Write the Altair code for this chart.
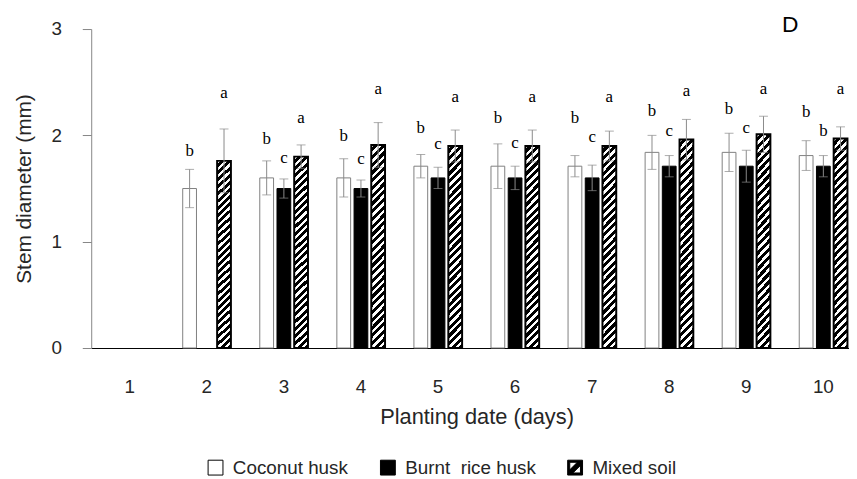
import altair as alt
import pandas as pd

# ---------------- data ----------------
days = ["1", "2", "3", "4", "5", "6", "7", "8", "9", "10"]
series = ["Coconut husk", "Burnt\u00a0\u00a0rice husk", "Mixed soil"]

coconut_mean = [None, 1.50, 1.60, 1.60, 1.71, 1.71, 1.71, 1.84, 1.84, 1.81]
coconut_err = [None, 0.18, 0.16, 0.18, 0.11, 0.21, 0.10, 0.16, 0.18, 0.14]
burnt_mean = [None, None, 1.50, 1.50, 1.60, 1.60, 1.60, 1.71, 1.71, 1.71]
burnt_err = [None, None, 0.09, 0.08, 0.10, 0.11, 0.12, 0.10, 0.15, 0.10]
mixed_mean = [None, 1.76, 1.80, 1.91, 1.90, 1.90, 1.90, 1.96, 2.01, 1.97]
mixed_err = [None, 0.30, 0.11, 0.21, 0.15, 0.15, 0.14, 0.19, 0.17, 0.11]

coconut_letter = [None, "b", "b", "b", "b", "b", "b", "b", "b", "b"]
burnt_letter = [None, None, "c", "c", "c", "c", "c", "c", "c", "b"]
mixed_letter = [None, "a", "a", "a", "a", "a", "a", "a", "a", "a"]

coconut_letter_y = [None, 1.85, 1.97, 1.99, 2.07, 2.16, 2.16, 2.23, 2.25, 2.22]
burnt_letter_y = [None, None, 1.79, 1.78, 1.92, 1.93, 1.98, 2.04, 2.07, 2.04]
mixed_letter_y = [None, 2.40, 2.16, 2.44, 2.36, 2.36, 2.36, 2.42, 2.44, 2.44]

# ---------------- table ----------------
rows = []
for s, means, errs, letters, ly in [
    (series[0], coconut_mean, coconut_err, coconut_letter, coconut_letter_y),
    (series[1], burnt_mean, burnt_err, burnt_letter, burnt_letter_y),
    (series[2], mixed_mean, mixed_err, mixed_letter, mixed_letter_y),
]:
    for d, m, e, l, y in zip(days, means, errs, letters, ly):
        if m is None:
            continue
        rows.append(dict(day=d, series=s, mean=m, lo=m - e, hi=m + e,
                         letter=l, letter_y=y))
df = pd.DataFrame(rows)

# ---------------- styling ----------------
FONT = "Liberation Sans"
N = 28
stops = []
for k in range(N):
    a0, a1, a2 = k / N, (k + 0.45) / N, (k + 1) / N
    stops += [{"offset": a0, "color": "white"}, {"offset": a1, "color": "white"},
              {"offset": a1, "color": "black"}, {"offset": a2, "color": "black"}]
hatch = {"gradient": "linear", "x1": 0, "y1": 0, "x2": 0.074, "y2": 1.064,
         "stops": stops}

hatch_symbol = ("M-1,-1L1,-1L1,1L-1,1Z"
                "M-0.72,-0.72L-0.72,0.72L0.72,0.72L0.72,-0.72Z"
                "M-0.72,0.3L0.3,-0.72L0.72,-0.72L0.72,-0.3L-0.3,0.72L-0.72,0.72Z")

x_enc = alt.X("day:N", scale=alt.Scale(domain=days, range=[0, 778],
                                        paddingInner=0.33, paddingOuter=0.165),
              axis=alt.Axis(title="Planting date (days)", labelAngle=0,
                            ticks=False, tickSize=0, labelPadding=30,
                            titlePadding=10, domainColor="#000000",
                            labelFontSize=19, titleFontSize=22))
xo_enc = alt.XOffset("series:N", scale=alt.Scale(domain=series,
                                                 paddingInner=0.2,
                                                 paddingOuter=0.1))
y_scale = alt.Scale(domain=[0, 3], nice=False)
y_enc = alt.Y("mean:Q", scale=y_scale,
              axis=alt.Axis(title="Stem diameter (mm)", values=[0, 1, 2, 3],
                            format="d", grid=False, tickSize=9, labelPadding=21,
                            domainColor="#868686", tickColor="#868686",
                            labelFontSize=19, titleFontSize=21,
                            titlePadding=17))

base = alt.Chart(df)

coconut_bars = base.transform_filter(alt.datum.series == series[0]).mark_bar(
    fill="white", stroke="#7f7f7f", strokeWidth=1).encode(
    x=x_enc, xOffset=xo_enc, y=y_enc)

burnt_bars = base.transform_filter(alt.datum.series == series[1]).mark_bar(
    fill="black", stroke="black", strokeWidth=1).encode(
    x=x_enc, xOffset=xo_enc, y=y_enc)

mixed_bars = base.transform_filter(alt.datum.series == series[2]).mark_bar(
    fill=hatch, stroke="black", strokeWidth=2).encode(
    x=x_enc, xOffset=xo_enc, y=y_enc)

err = base.mark_rule(color="#8a8a8a", strokeWidth=1).encode(
    x=x_enc, xOffset=xo_enc, y=alt.Y("lo:Q", scale=y_scale), y2="hi:Q")
cap_hi = base.mark_tick(color="#8a8a8a", thickness=1, size=9).encode(
    x=x_enc, xOffset=xo_enc, y=alt.Y("hi:Q", scale=y_scale))
cap_lo = base.mark_tick(color="#8a8a8a", thickness=1, size=9).encode(
    x=x_enc, xOffset=xo_enc, y=alt.Y("lo:Q", scale=y_scale))

letters = base.mark_text(font="Liberation Serif", fontSize=17,
                         baseline="middle", color="black").encode(
    x=x_enc, xOffset=xo_enc, y=alt.Y("letter_y:Q", scale=y_scale),
    text="letter:N")

legend_def = alt.Legend(title=None, orient="none", direction="horizontal",
                        legendX=116, legendY=433)
legend_layer = base.transform_filter(alt.datum.day == "0").mark_point(
    filled=True, opacity=1, strokeWidth=1).encode(
    x=x_enc, y=y_enc,
    fill=alt.Fill("series:N",
                  scale=alt.Scale(domain=series, range=["white", "black", "black"]),
                  legend=legend_def),
    stroke=alt.Stroke("series:N",
                      scale=alt.Scale(domain=series, range=["black", "black", "black"]),
                      legend=legend_def),
    shape=alt.Shape("series:N",
                    scale=alt.Scale(domain=series,
                                    range=["square", "square", hatch_symbol]),
                    legend=legend_def),
)

chart = alt.layer(coconut_bars, burnt_bars, mixed_bars, err, cap_hi, cap_lo,
                  letters, legend_layer).properties(
    width=765, height=322,
    autosize=alt.AutoSizeParams(type="none"),
    padding={"left": 84, "top": 19, "right": 0, "bottom": 130},
    title=alt.Title("D", anchor="end", frame="group", fontSize=23, font=FONT,
                    fontWeight="normal", dx=-51, offset=-17, color="black"),
).configure_view(stroke=None).configure_axis(
    labelFont=FONT, titleFont=FONT, labelColor="#262626", titleColor="#262626",
    titleFontWeight="normal", domainWidth=1,
).configure_legend(
    labelFont=FONT, labelFontSize=19, labelColor="#262626", symbolSize=225,
    symbolStrokeColor="black", symbolStrokeWidth=1, symbolOpacity=1,
    labelOffset=8, columnPadding=30, padding=0,
)

chart.save("out.html", embed_options={"renderer": "svg", "actions": False})
